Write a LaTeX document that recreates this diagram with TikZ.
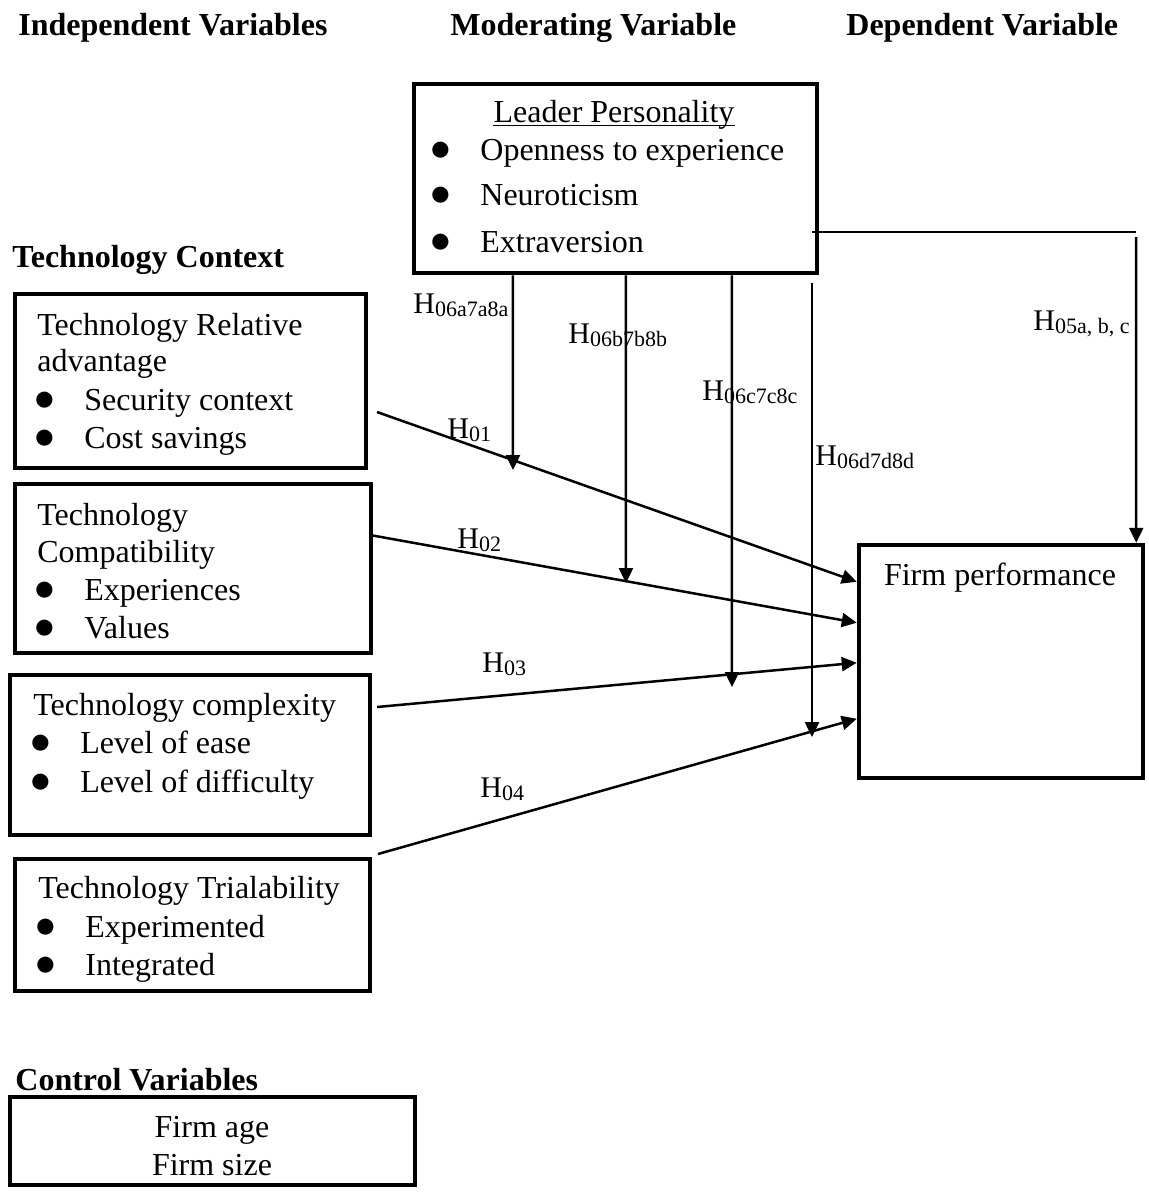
\documentclass[tikz,border=0pt]{standalone}
\usepackage{fontspec}
\setmainfont{Liberation Serif}
\usetikzlibrary{arrows.meta,fit}

% hypothesis label and bullet item
\newcommand{\hyp}[1]{H\raisebox{-1.5pt}{\fontsize{11}{11}\selectfont #1}}
\newcommand{\itm}[1]{\makebox[23.5pt][l]{\hspace*{-1.5pt}\raisebox{-0.4pt}{\scalebox{1.2}{$\bullet$}}}#1}

\begin{document}
\begin{tikzpicture}[
	x=0.5pt,
	y=-0.5pt,
	>={Triangle[length=7.5pt,width=7pt]},
	box/.style={draw, line width=2.25pt, inner sep=0pt},
	txt/.style={anchor=base west, inner sep=0pt, font=\fontsize{16}{19}\selectfont},
	ctxt/.style={txt, anchor=base},
	head/.style={txt, font=\fontsize{16}{19}\selectfont\bfseries},
	hlab/.style={anchor=base west, inner sep=0pt, font=\fontsize{15}{18}\selectfont},
	link/.style={line width=1.25pt}
	]
	\useasboundingbox (0,0) rectangle (1149,1200);
	
	% Column headings
	\node[head] (indep) at (18,35) {Independent Variables};
	\node[head] (moder) at (450,35) {Moderating Variable};
	\node[head] (depen) at (846,35) {Dependent Variable};
	\node[head] (techctx) at (12,267) {Technology Context};
	\node[head] (ctrl) at (15,1090) {Control Variables};
	
	% Boxes
	\node[box, fit={(414,84) (817,273)}] (lead) {};
	\node[box, fit={(15,294) (366,468)}] (rel) {};
	\node[box, fit={(15,484) (371,653)}] (comp) {};
	\node[box, fit={(10,675) (370,835)}] (cplx) {};
	\node[box, fit={(15,859) (370,991)}] (trial) {};
	\node[box, fit={(859,545) (1143,778)}] (firm) {};
	\node[box, fit={(10,1097) (415,1185)}] (cvar) {};
	
	% Moderator
	\node[ctxt] (leadtitle) at (614,122) {Leader Personality};
	\draw[line width=0.6pt] ([yshift=-1.6pt]leadtitle.base west) -- ([yshift=-1.6pt]leadtitle.base east);
	\node[txt] (lead1) at (433,160) {\itm{Openness to experience}};
	\node[txt] (lead2) at (433,205) {\itm{Neuroticism}};
	\node[txt] (lead3) at (433,252) {\itm{Extraversion}};
	
	% Technology context
	\node[txt] (rel1) at (37,335) {Technology Relative};
	\node[txt] (rel2) at (37,371) {advantage};
	\node[txt] (rel3) at (37,410) {\itm{Security context}};
	\node[txt] (rel4) at (37,448) {\itm{Cost savings}};
	
	\node[txt] (comp1) at (37,525) {Technology};
	\node[txt] (comp2) at (37,562) {Compatibility};
	\node[txt] (comp3) at (37,600) {\itm{Experiences}};
	\node[txt] (comp4) at (37,638) {\itm{Values}};
	
	\node[txt] (cplx1) at (33,715) {Technology complexity};
	\node[txt] (cplx2) at (33,753) {\itm{Level of ease}};
	\node[txt] (cplx3) at (33,792) {\itm{Level of difficulty}};
	
	\node[txt] (trial1) at (38,898) {Technology Trialability};
	\node[txt] (trial2) at (38,937) {\itm{Experimented}};
	\node[txt] (trial3) at (38,975) {\itm{Integrated}};
	
	% Outcome and controls
	\node[ctxt] (firmtxt) at (1000,585) {Firm performance};
	\node[ctxt] (cage) at (212,1137) {Firm age};
	\node[ctxt] (csize) at (212,1175) {Firm size};
	
	% Start and end points of the links
	\coordinate (s1) at (377,412);
	\coordinate (s2) at (370,535);
	\coordinate (s3) at (377,707);
	\coordinate (s4) at (378,854);
	\coordinate (ma) at (513,470);
	\coordinate (mb) at (626,583);
	\coordinate (mc) at (732,687);
	\coordinate (md0) at (812,283);
	\coordinate (md) at (812,737);
	\coordinate (p5) at (812,232);
	\coordinate (q5) at (1136,232);
	\coordinate (r5) at (1136,237);
	
	% Direct effects
	\draw[link,->] (s1) -- ([yshift=-19.5pt]firm.north west);
	\draw[link,->] (s2) -- ([yshift=-40pt]firm.north west);
	\draw[link,->] (s3) -- ([yshift=-60pt]firm.north west);
	\draw[link,->] (s4) -- ([yshift=-88pt]firm.north west);
	
	% Moderating effects
	\draw[link,->] ([xshift=50.5pt]lead.south west) -- (ma);
	\draw[link,->] ([xshift=107pt]lead.south west) -- (mb);
	\draw[link,->] ([xshift=160pt]lead.south west) -- (mc);
	\draw[link,->] (md0) -- (md);
	\draw[link] (p5) -- (q5);
	\draw[link,->] (r5) -- ([xshift=-4.5pt]firm.north east);
	
	% Hypothesis labels
	\node[hlab] (h1) at (447,438) {\hyp{01}};
	\node[hlab] (h2) at (457,548) {\hyp{02}};
	\node[hlab] (h3) at (482,672) {\hyp{03}};
	\node[hlab] (h4) at (480,797) {\hyp{04}};
	\node[hlab] (h5) at (1033,330) {\hyp{05a, b, c}};
	\node[hlab] (h6a) at (413,313) {\hyp{06a7a8a}};
	\node[hlab] (h6b) at (568,343) {\hyp{06b7b8b}};
	\node[hlab] (h6c) at (702,400) {\hyp{06c7c8c}};
	\node[hlab] (h6d) at (815,465) {\hyp{06d7d8d}};
	
\end{tikzpicture}
\end{document}
